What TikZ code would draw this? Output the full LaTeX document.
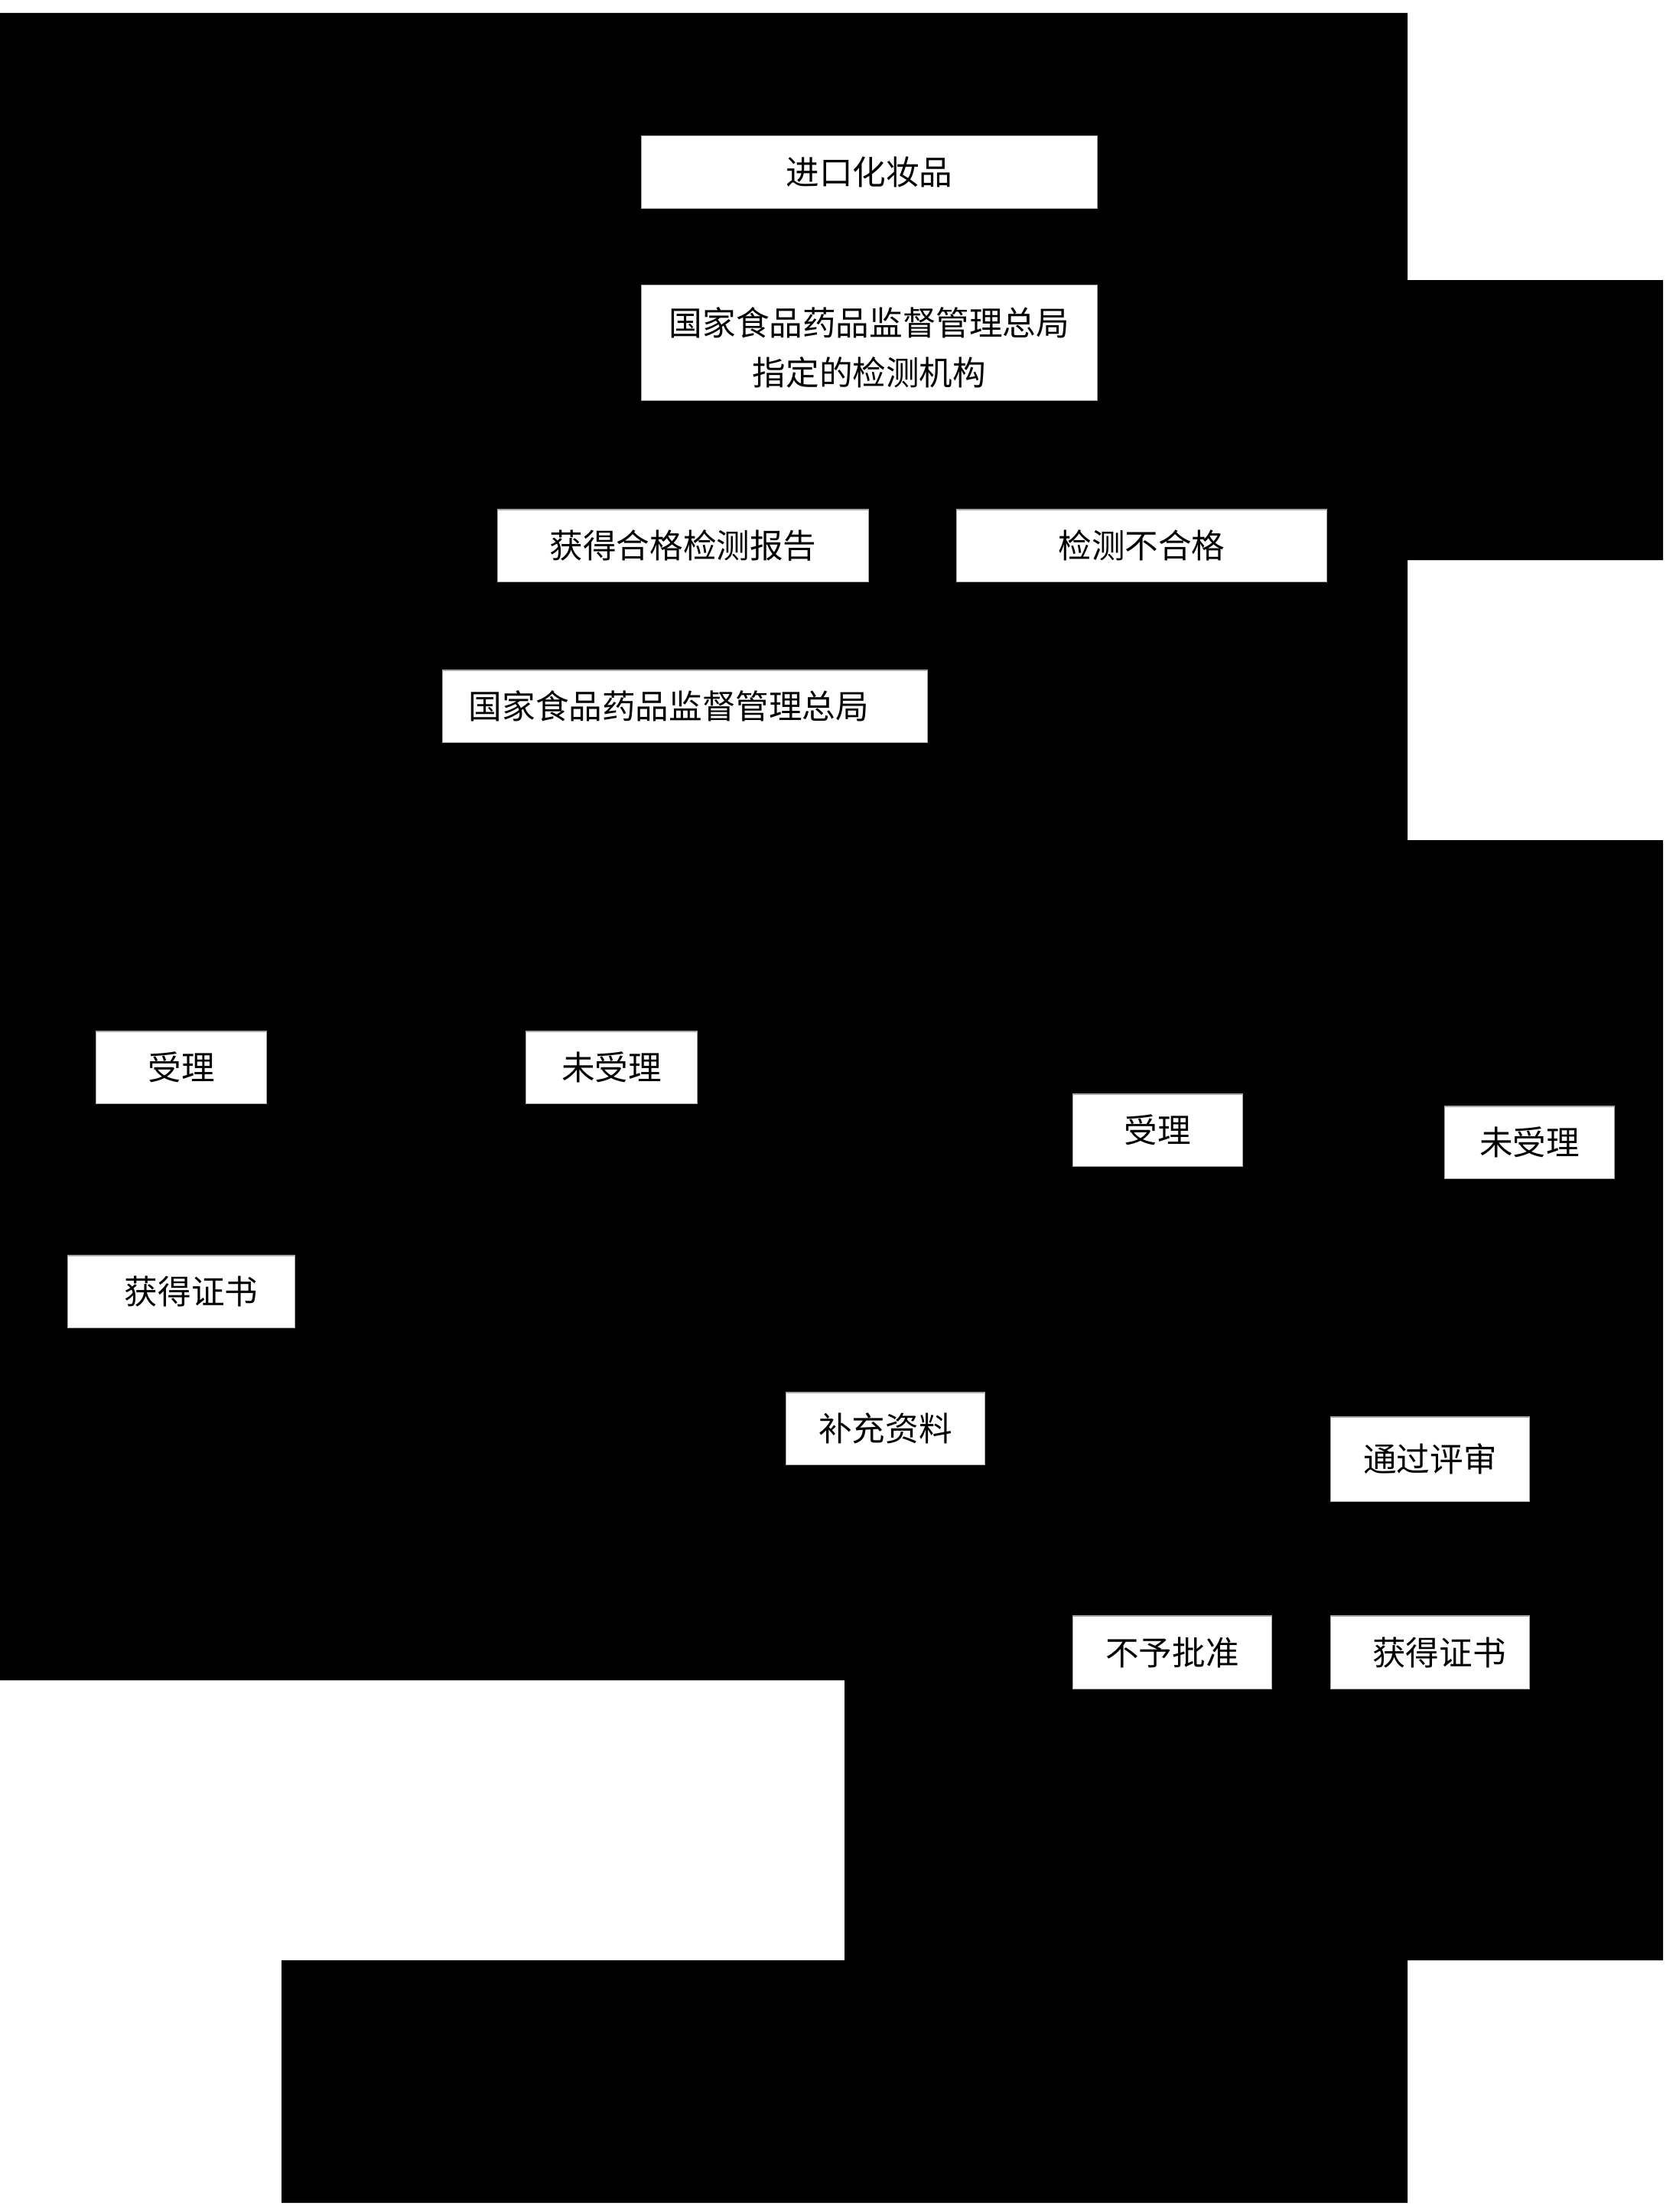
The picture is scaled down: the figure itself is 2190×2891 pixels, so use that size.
\documentclass[tikz,border=0pt]{standalone}
\usepackage{fontspec}
\setmainfont{Noto Sans CJK SC}
\begin{document}
\begin{tikzpicture}[x=0.01cm,y=-0.01cm]
\tikzset{
  box/.style={draw=gray!70, line width=0.3pt, fill=white, inner sep=0pt, align=center,
              font=\fontsize{12.4}{18.4}\selectfont}
}
\fill[white] (0,0) rectangle (2190,2891);
\useasboundingbox (0,0) rectangle (2190,2891);
\fill[black] (0,17) -- (1840,17) -- (1840,366) -- (2174,366) -- (2174,732) -- (1840,732)
  -- (1840,1098) -- (2174,1098) -- (2174,2562) -- (1840,2562) -- (1840,2879)
  -- (368,2879) -- (368,2562) -- (1104,2562) -- (1104,2196) -- (0,2196) -- cycle;

\node[box, minimum width=5.95cm, minimum height=0.94cm] (b1) at (1136.5,225) {进口化妆品};
\node[box, minimum width=5.95cm, minimum height=1.5cm] (b2) at (1136.5,448)
  {\rule{0pt}{0.5cm}国家食品药品监督管理总局\\指定的检测机构};
\node[box, minimum width=4.84cm, minimum height=0.94cm] (b3) at (893,713) {获得合格检测报告};
\node[box, minimum width=4.83cm, minimum height=0.94cm] (b4) at (1492.5,713) {检测不合格};
\node[box, minimum width=6.33cm, minimum height=0.94cm, align=left,
      text width=5.65cm, inner xsep=0.34cm] (b5) at (895.5,923) {国家食品药品监督管理总局};
\node[box, minimum width=2.22cm, minimum height=0.94cm] (b6) at (237,1395) {受理};
\node[box, minimum width=2.23cm, minimum height=0.94cm] (b7) at (799.5,1395) {未受理};
\node[box, minimum width=2.96cm, minimum height=0.94cm] (b8) at (237,1688) {\hspace*{0.26cm}获得证书};
\node[box, minimum width=2.21cm, minimum height=0.94cm] (b9) at (1513.5,1477) {受理};
\node[box, minimum width=2.21cm, minimum height=0.94cm] (b10) at (1999.5,1493) {未受理};
\node[box, minimum width=2.59cm, minimum height=0.94cm] (b11) at (1157.5,1867) {补充资料};
\node[box, minimum width=2.59cm, minimum height=1.10cm] (b12) at (1869.5,1907) {通过评审};
\node[box, minimum width=2.59cm, minimum height=0.95cm] (b13) at (1532.5,2159.5) {不予批准};
\node[box, minimum width=2.59cm, minimum height=0.95cm] (b14) at (1869.5,2159.5) {\hspace*{0.24cm}获得证书};
\end{tikzpicture}
\end{document}
